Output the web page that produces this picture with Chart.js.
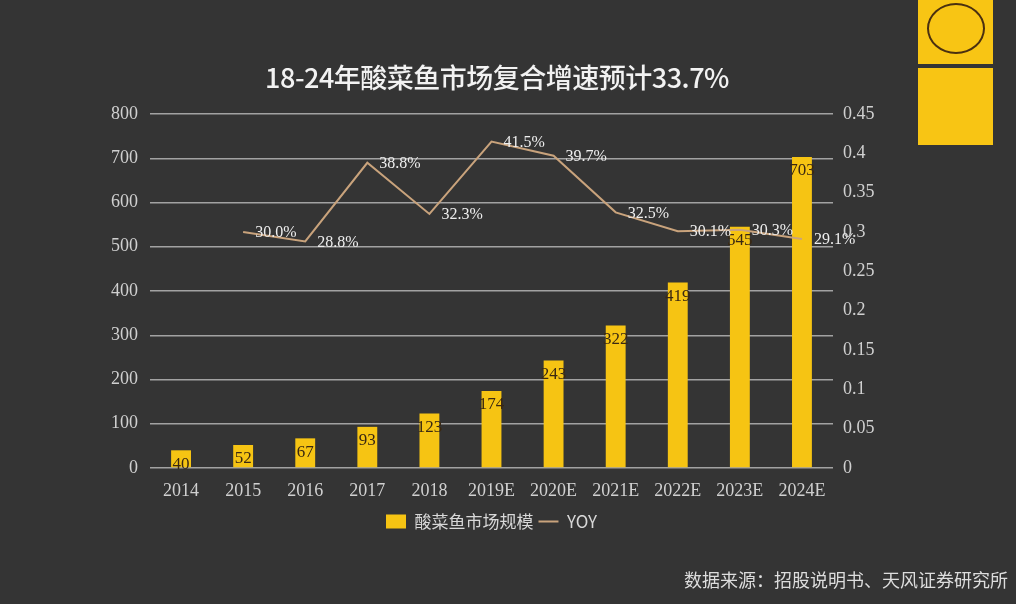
<!DOCTYPE html>
<html lang="zh">
<head>
    <meta charset="UTF-8">
    <title>酸菜鱼市场规模</title>
    <script src="https://cdn.jsdelivr.net/npm/chart.js"></script>
    <style>
        html, body {
            margin: 0;
            padding: 0;
            background: #343434;
            width: 1016px;
            height: 604px;
            overflow: hidden;
        }
        .wrap {
            position: absolute;
            left: 0;
            top: 0;
            width: 1016px;
            height: 604px;
        }
        .title {
            position: absolute;
            left: 0;
            width: 994px;
            top: 57px;
            text-align: center;
            color: #f2f2f2;
            font-family: "Noto Sans CJK SC", sans-serif;
            font-size: 27px;
            font-weight: 500;
            letter-spacing: -0.5px;
        }
        .source {
            position: absolute;
            right: 8px;
            top: 566px;
            color: #dddddd;
            font-family: "Noto Sans CJK SC", sans-serif;
            font-size: 18px;
        }
        .logo-top, .logo-bottom {
            position: absolute;
            left: 918px;
            width: 75px;
            background: #f8c514;
        }
        .logo-top { top: 0; height: 64px; }
        .logo-bottom { top: 68px; height: 77px; }
        .ring {
            position: absolute;
            left: 9px;
            top: 3px;
            width: 54px;
            height: 47px;
            border: 2px solid #4a3010;
            border-radius: 50%;
        }
    </style>
</head>
<body>
<div class="wrap">
    <canvas id="myChart" width="1016" height="604"></canvas>
</div>
<div class="title">18-24年酸菜鱼市场复合增速预计33.7%</div>
<div class="logo-top"><div class="ring"></div></div>
<div class="logo-bottom"></div>
<div class="source">数据来源：招股说明书、天风证券研究所</div>
<script>
    const years = ['2014', '2015', '2016', '2017', '2018', '2019E', '2020E', '2021E', '2022E', '2023E', '2024E'];
    const marketSize = [40, 52, 67, 93, 123, 174, 243, 322, 419, 545, 703];
    const yoy = [null, 0.300, 0.288, 0.388, 0.323, 0.415, 0.397, 0.325, 0.301, 0.303, 0.291];
    const yoyLabels = [null, '30.0%', '28.8%', '38.8%', '32.3%', '41.5%', '39.7%', '32.5%', '30.1%', '30.3%', '29.1%'];
    const seriesNames = ['酸菜鱼市场规模', 'YOY'];

    const tickFont = { family: 'Liberation Serif', size: 18 };

    // bar values + yoy texts
    const valueLabels = {
        id: 'valueLabels',
        afterDatasetsDraw(chart) {
            const ctx = chart.ctx;
            ctx.save();
            ctx.textBaseline = 'middle';

            const bars = chart.getDatasetMeta(0).data;
            ctx.font = '17px "Liberation Serif"';
            ctx.fillStyle = '#3a2812';
            ctx.textAlign = 'center';
            bars.forEach((bar, i) => {
                ctx.fillText(String(marketSize[i]), bar.x, bar.y + 14);
            });

            const pts = chart.getDatasetMeta(1).data;
            ctx.font = '16px "Liberation Serif"';
            ctx.fillStyle = '#eeeeee';
            ctx.textAlign = 'left';
            pts.forEach((p, i) => {
                if (yoyLabels[i] == null) return;
                ctx.fillText(yoyLabels[i], p.x + 12, p.y + 1);
            });
            ctx.restore();
        }
    };

    const ctx = document.getElementById('myChart').getContext('2d');
    const myChart = new Chart(ctx, {
        type: 'bar',
        data: {
            labels: years,
            datasets: [
                {
                    label: seriesNames[0],
                    data: marketSize,
                    backgroundColor: '#f6c413',
                    barPercentage: 0.64,
                    categoryPercentage: 0.5,
                    yAxisID: 'y',
                    pointStyle: 'rect',
                    order: 1
                },
                {
                    type: 'line',
                    label: seriesNames[1],
                    data: yoy,
                    borderColor: '#c9a37c',
                    backgroundColor: '#c9a37c',
                    borderWidth: 2,
                    pointRadius: 0,
                    tension: 0,
                    fill: false,
                    yAxisID: 'y1',
                    pointStyle: 'line',
                    order: 0
                }
            ]
        },
        options: {
            responsive: false,
            animation: false,
            layout: {
                padding: { left: 90, right: 123, top: 114, bottom: 64 }
            },
            plugins: {
                legend: {
                    position: 'bottom',
                    labels: {
                        color: '#d8d8d8',
                        font: { family: 'Noto Sans CJK SC', size: 17 },
                        usePointStyle: true,
                        boxWidth: 14,
                        boxHeight: 14,
                        pointStyleWidth: 20,
                        padding: 5,
                        sort: (a, b) => a.datasetIndex - b.datasetIndex
                    }
                },
                tooltip: { enabled: false }
            },
            scales: {
                x: {
                    grid: { display: false },
                    border: { display: false },
                    ticks: { color: '#d0d0d0', font: tickFont, padding: 4, maxRotation: 0 },
                    afterFit(scale) { scale.height = 40; }
                },
                y: {
                    position: 'left',
                    min: 0,
                    max: 800,
                    ticks: { stepSize: 100, color: '#d0d0d0', font: tickFont, padding: 12 },
                    grid: { color: '#a2a2a2', lineWidth: 1.5, drawTicks: false },
                    border: { display: false },
                    afterFit(scale) { scale.width = 60; }
                },
                y1: {
                    position: 'right',
                    min: 0,
                    max: 0.45,
                    ticks: {
                        stepSize: 0.05,
                        color: '#d0d0d0',
                        font: tickFont,
                        padding: 10,
                        callback: v => String(Math.round(v * 100) / 100)
                    },
                    grid: { display: false, drawTicks: false },
                    border: { display: false },
                    afterFit(scale) { scale.width = 60; }
                }
            }
        },
        plugins: [valueLabels]
    });
</script>
</body>
</html>
